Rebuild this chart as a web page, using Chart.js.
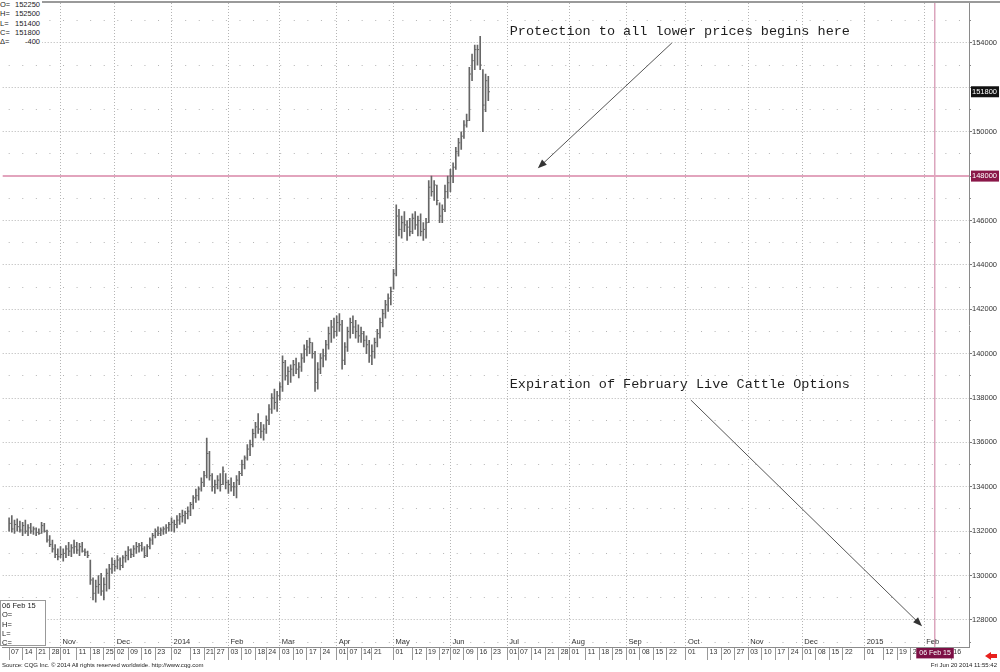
<!DOCTYPE html>
<html><head><meta charset="utf-8">
<script src="https://cdn.jsdelivr.net/npm/chart.js@4.4.0/dist/chart.umd.min.js"></script>
<style>
html,body{margin:0;padding:0;background:#fff;}
#wrap{position:relative;width:1000px;height:672px;overflow:hidden;font-family:"Liberation Sans",Arial,sans-serif;color:#222;}
canvas{position:absolute;left:0;top:0;}
.box{position:absolute;background:#fff;font-size:7.5px;line-height:9.3px;}
.row{white-space:nowrap;}
.k{display:inline-block;width:12px;}
.v{display:inline-block;width:28px;text-align:right;}
.foot{position:absolute;top:661px;font-size:6px;line-height:8px;color:#222;white-space:nowrap;}
</style></head>
<body>
<div id="wrap">
<canvas id="c" width="1000" height="672"></canvas>
<div style="position:absolute;left:0;top:1px;width:1000px;height:2px;background:#9a9a9a;"></div>
<div id="ohlc" class="box" style="left:0;top:0;width:42px;"></div>
<div id="exp" class="box" style="left:0;top:600px;width:46px;height:46px;border:1px solid #999;padding-left:1px;box-sizing:border-box;"></div>
<div class="foot" style="left:2px;">Source: CQG Inc. © 2014 All rights reserved worldwide. http://www.cqg.com</div>
<div class="foot" style="right:3px;">Fri Jun 20 2014 11:55:42</div>
<div style="position:absolute;left:985px;top:652px;width:0;height:0;border-top:4px solid transparent;border-bottom:4px solid transparent;border-right:6px solid #e8201c;"></div>
<div style="position:absolute;left:990px;top:654px;width:7px;height:4px;background:#e8201c;"></div>
</div>
<script>
// ---------- data ----------
const holidays = ['2013-11-28','2013-12-25','2014-01-01','2014-01-20','2014-02-17','2014-04-18','2014-05-26'];

// daily highs / lows / closes, 07 Oct 2013 .. 20 Jun 2014 (one per trading day)
const highs = [
 132600,132700,132500,132550,132450,132400,132500,132300,132350,132200,132150,132100,132400,132350,132050,131800,131600,131400,131200,
 131300,131200,131350,131500,131400,131600,131500,131450,131500,131200,131100,130700,129900,129800,130000,130100,129900,130300,130500,130800,
 130700,130900,130800,130900,131100,131300,131200,131350,131500,131450,131500,131300,131400,131700,131900,132100,132200,132150,132200,132300,132400,
 132600,132500,132700,132800,132950,132900,133100,133300,133600,133900,134000,134400,134700,136200,135600,134600,134300,134500,134600,134900,134600,
 134300,134400,134200,134500,134700,135200,135400,135900,136100,136600,136900,137300,136900,136800,137200,137700,138200,138400,138300,
 138700,139900,139700,139400,139500,139700,139800,139600,140000,140400,140600,140700,140500,140100,139600,140000,140200,140600,141200,141500,141600,
 141700,141800,141500,140500,141200,141600,141700,141500,141300,141200,141000,140800,140600,140400,140700,141100,141600,142000,142400,142700,143000,
 143800,146700,146500,146200,146400,146000,146100,146300,146400,146200,146300,145900,146100,147800,148000,147800,147600,146800,146700,147600,148000,
 148300,148600,149300,149700,150000,150500,150800,152900,153500,153900,153900,154300,152800,152600,152500
];
const lows = [
 132000,131950,131900,132000,131950,131800,131900,131800,131900,131850,131800,131850,131900,131950,131500,131300,131050,130800,130700,
 130800,130650,130800,130900,130850,131000,131000,130900,131050,130900,130800,129600,128900,128800,129200,129100,128900,129300,129400,130100,
 130200,130300,130250,130350,130600,130700,130800,130850,131000,131050,131100,130800,130850,131200,131400,131700,131800,131800,131850,131900,132000,
 132000,131950,132150,132300,132400,132350,132550,132700,133000,133300,133400,133800,134000,134400,134300,133800,133700,133900,133800,134100,133900,
 133700,133800,133600,133500,134100,134500,134800,135200,135400,135800,136200,136400,136200,136100,136400,136800,137300,137500,137400,
 137900,138300,138800,138600,138700,139000,139100,138900,139200,139600,139900,140000,139800,138300,138400,139100,139400,139700,140200,140500,140700,
 140800,141000,139300,139500,140100,140700,140900,140700,140500,140500,140300,140000,139600,139500,139800,140300,140700,141200,141600,141900,142200,
 142900,143500,145300,145200,145500,145100,145300,145400,145600,145300,145300,145100,145200,145900,147100,146900,146700,145900,145900,146400,147000,
 147300,147700,148300,148900,149200,149700,150200,150500,152300,152800,153000,152800,150000,150900,151400
];
const closes = [
 132350,132100,132300,132200,132050,132250,132000,132150,132000,132100,131950,131900,132250,132000,131600,131400,131200,130950,130850,
 130950,131000,131200,131100,131250,131300,131150,131300,131100,131050,130900,129800,129200,129500,129600,129300,129600,130100,130300,130500,
 130400,130700,130450,130800,130900,131150,130950,131200,131300,131350,131200,130900,131300,131600,131800,132000,131900,132050,132100,132150,132300,
 132400,132300,132500,132650,132700,132800,132900,133200,133500,133600,133900,134200,134500,135500,134500,134000,134100,134300,134100,134700,134200,
 134100,134000,134000,134300,134600,135000,135300,135700,135900,136400,136700,136600,136500,136600,137000,137500,138000,137800,138100,
 138500,139600,139000,139200,139300,139500,139300,139400,139800,140200,140300,140500,140000,138700,139300,139800,139900,140400,140900,141200,141000,
 141400,141300,139700,140300,141000,141400,141200,141000,140800,140900,140600,140400,139900,140100,140500,140900,141400,141800,142200,142500,142800,
 143600,146200,145600,145900,145800,145700,145500,146100,145800,146000,145500,145600,145900,147500,147300,147600,146900,146200,146500,147300,147700,
 148000,148400,149100,149500,149800,150300,150500,152600,153200,153700,153700,153000,151200,152300,151800
];

const monthStarts = ['2013-11-01','2013-12-02','2014-01-02','2014-02-03','2014-03-03','2014-04-01','2014-05-01','2014-06-02','2014-07-01','2014-08-01','2014-09-01','2014-10-01','2014-11-03','2014-12-01','2015-01-01','2015-02-02'];
const monthLabels = ['Nov','Dec','2014','Feb','Mar','Apr','May','Jun','Jul','Aug','Sep','Oct','Nov','Dec','2015','Feb'];
const weekDates = ['2013-10-07','2013-10-14','2013-10-21','2013-10-28','2013-11-01','2013-11-11','2013-11-18','2013-11-25','2013-12-02','2013-12-09','2013-12-16','2013-12-23','2014-01-02','2014-01-13','2014-01-21','2014-01-27','2014-02-03','2014-02-10','2014-02-18','2014-02-24','2014-03-03','2014-03-10','2014-03-17','2014-03-24','2014-04-01','2014-04-07','2014-04-14','2014-04-21','2014-05-01','2014-05-12','2014-05-19','2014-05-27','2014-06-02','2014-06-09','2014-06-16','2014-06-23','2014-07-01','2014-07-07','2014-07-14','2014-07-21','2014-07-28','2014-08-01','2014-08-11','2014-08-18','2014-08-25','2014-09-01','2014-09-08','2014-09-15','2014-09-22','2014-10-01','2014-10-13','2014-10-20','2014-10-27','2014-11-03','2014-11-10','2014-11-17','2014-11-24','2014-12-01','2014-12-08','2014-12-15','2014-12-22','2015-01-01','2015-01-12','2015-01-19','2015-01-26','2015-02-16'];
const expDate = '2015-02-06';
const expLabel = '06 Feb 15';

const yTicks = [128000,130000,132000,134000,136000,138000,140000,142000,144000,146000,148000,150000,152000,154000];
const yMinorTicks = [127000,129000,131000,133000,135000,137000,139000,141000,143000,145000,147000,149000,151000,153000,155000];
const strike = 148000;
const lastPrice = 151800;

const legendKeys = ['O=','H=','L=','C=','Δ='];
const legendVals = ['152250','152500','151400','151800','-400'];
const expKeys = ['O=','H=','L=','C='];

const noteTexts = ['Protection to all lower prices begins here','Expiration of February Live Cattle Options'];
const noteDates = [184.9, 184.9];           // slot index of text start
const notePrices = [154540, 138630];
const arrowFrom = [[244.8,154000],[251.8,137910]];
const arrowTo   = [[195.3,148350],[337.2,127720]];

// ---------- build ----------
function buildSlots(){
  const out=[]; const d=new Date(Date.UTC(2013,9,7)); const end=Date.UTC(2015,1,20);
  while(d.getTime()<=end){
    const wd=d.getUTCDay(); const s=d.toISOString().slice(0,10);
    if(wd!==0&&wd!==6&&!holidays.includes(s)) out.push(s);
    d.setUTCDate(d.getUTCDate()+1);
  }
  return out;
}
const slots = buildSlots();
const idx = s => slots.indexOf(s);
const monthIdx = monthStarts.map(idx);
const weekIdx = weekDates.map(idx);
const weekLabels = weekDates.map(s => s.slice(8,10));
const expIdx = idx(expDate);

const barData = highs.map((h,i)=>({x:i, y:[lows[i], h]}));
const closeData = closes.map((c,i)=>({x:i, y:c}));

document.getElementById('ohlc').innerHTML = legendKeys.map((k,i)=>'<div class="row"><span class="k">'+k+'</span><span class="v">'+legendVals[i]+'</span></div>').join('');
document.getElementById('exp').innerHTML = '<div class="row">'+expLabel+'</div>' + expKeys.map(k=>'<div class="row">'+k+'</div>').join('');

const X_MIN = -2.36, X_MAX = 354.55, Y_MIN = 126780, Y_MAX = 155800;
const FONT = '"Liberation Sans", Arial, sans-serif';
const noClip = s => { s._computeLabelArea = () => undefined; };
const noPad = s => { s.paddingTop = 0; s.paddingBottom = 0; };

const notes = {
  id:'notes',
  afterDatasetsDraw(chart){
    const {ctx, scales:{x, y}} = chart;
    ctx.save();
    ctx.font = '13.5px "Liberation Mono", "DejaVu Sans Mono", monospace';
    ctx.fillStyle = '#1e1e1e';
    ctx.textBaseline = 'middle';
    noteTexts.forEach((t,k)=>ctx.fillText(t, x.getPixelForValue(noteDates[k]), y.getPixelForValue(notePrices[k])));
    ctx.strokeStyle = '#555'; ctx.fillStyle = '#333'; ctx.lineWidth = 1;
    arrowFrom.forEach((f,k)=>{
      const x1=x.getPixelForValue(f[0]), y1=y.getPixelForValue(f[1]);
      const x2=x.getPixelForValue(arrowTo[k][0]), y2=y.getPixelForValue(arrowTo[k][1]);
      const a=Math.atan2(y2-y1,x2-x1), L=9, W=3.5;
      ctx.beginPath(); ctx.moveTo(x1,y1); ctx.lineTo(x2-Math.cos(a)*L*0.6,y2-Math.sin(a)*L*0.6); ctx.stroke();
      ctx.beginPath(); ctx.moveTo(x2,y2);
      ctx.lineTo(x2-Math.cos(a)*L-Math.sin(a)*W, y2-Math.sin(a)*L+Math.cos(a)*W);
      ctx.lineTo(x2-Math.cos(a)*L+Math.sin(a)*W, y2-Math.sin(a)*L-Math.cos(a)*W);
      ctx.closePath(); ctx.fill();
    });
    ctx.restore();
  }
};

new Chart(document.getElementById('c'), {
  type:'bar',
  data:{datasets:[
    {type:'bar', data:barData, backgroundColor:'#666', borderWidth:0, barThickness:1, grouped:false, xAxisID:'x', yAxisID:'y'},
    {type:'scatter', data:closeData, pointStyle:'dash', pointRadius:1.7, pointHoverRadius:0, borderColor:'#666', borderWidth:1, xAxisID:'x', yAxisID:'y'}
  ]},
  options:{
    responsive:false, animation:false, events:[],
    layout:{padding:{top:3,left:0,right:0,bottom:12}},
    plugins:{legend:{display:false}, tooltip:{enabled:false}},
    scales:{
      x:{type:'linear', position:'bottom', weight:0, min:X_MIN, max:X_MAX, offset:false,
        afterBuildTicks:s=>{s.ticks=monthIdx.map(v=>({value:v}));},
        afterFit:s=>{s.height=0; noClip(s);},
        ticks:{autoSkip:false, maxRotation:0, minRotation:0, align:'start', labelOffset:2, padding:-10, font:{size:7.5,family:FONT}, color:'#333', callback:(v,i)=>monthLabels[i]},
        grid:{offset:false, color:'#b4b4b4', lineWidth:1, drawTicks:false},
        border:{display:false, dash:[1,2]}
      },
      xe:{type:'linear', position:'bottom', weight:0.5, min:X_MIN, max:X_MAX, offset:false,
        afterBuildTicks:s=>{s.ticks=[{value:expIdx}];},
        afterFit:s=>{s.height=0; noClip(s);},
        ticks:{z:2, autoSkip:false, maxRotation:0, minRotation:0, align:'center', padding:2, font:{size:7,family:FONT}, color:'#fff', callback:()=>expLabel,
          showLabelBackdrop:true, backdropColor:'#7d0f45', backdropPadding:{top:1,bottom:1,left:3,right:3}},
        grid:{offset:false, drawTicks:false, color:'#dba5bd', lineWidth:1.5},
        border:{display:false}
      },
      xw:{type:'linear', position:'bottom', weight:1, min:X_MIN, max:X_MAX, offset:false,
        afterBuildTicks:s=>{s.ticks=weekIdx.map(v=>({value:v}));},
        afterFit:s=>{s.height=13;},
        ticks:{autoSkip:false, maxRotation:0, minRotation:0, align:'start', labelOffset:2, padding:-12, font:{size:7,family:FONT}, color:'#333', callback:(v,i)=>weekLabels[i]},
        grid:{offset:false, drawOnChartArea:false, drawTicks:true, tickLength:13, tickColor:'#999', color:'#999'},
        border:{display:true, color:'#8c8c8c', width:1}
      },
      ym:{type:'linear', position:'right', weight:0, min:Y_MIN, max:Y_MAX,
        afterBuildTicks:s=>{s.ticks=yMinorTicks.map(v=>({value:v}));},
        afterFit:s=>{s.width=0; noPad(s);},
        ticks:{display:false},
        grid:{color:'#b4b4b4', drawTicks:true, tickLength:2, tickColor:'#888'},
        border:{display:false, dash:[1,12.575], dashOffset:-6}
      },
      ys:{type:'linear', position:'right', weight:0, min:Y_MIN, max:Y_MAX,
        afterBuildTicks:s=>{s.ticks=[{value:strike},{value:lastPrice}];},
        afterFit:s=>{s.width=0; noClip(s); noPad(s);},
        ticks:{z:2, padding:3, font:{size:7.5,family:FONT}, color:'#fff', callback:v=>String(v),
          showLabelBackdrop:true, backdropColor:c=>(c.tick&&c.tick.value===strike)?'#8a1748':'#111', backdropPadding:{top:1,bottom:1,left:1,right:2}},
        grid:{drawTicks:false, color:c=>(c.tick&&c.tick.value===strike)?'#e2a4bd':'rgba(0,0,0,0)', lineWidth:2},
        border:{display:false}
      },
      y:{type:'linear', position:'right', weight:1, min:Y_MIN, max:Y_MAX,
        afterBuildTicks:s=>{s.ticks=yTicks.map(v=>({value:v}));},
        afterFit:s=>{s.width=31; noPad(s);},
        ticks:{padding:0, font:{size:7.5,family:FONT}, color:'#333', callback:v=>(v===strike||Math.abs(v-lastPrice)<500)?'':String(v)},
        grid:{color:c=>(c.tick&&c.tick.value===strike)?'rgba(0,0,0,0)':'#b4b4b4', drawTicks:true, tickLength:3, tickColor:'#777'},
        border:{display:true, color:'#8a8a8a', width:1, dash:[1,2]}
      }
    }
  },
  plugins:[notes]
});
</script>
</body></html>
